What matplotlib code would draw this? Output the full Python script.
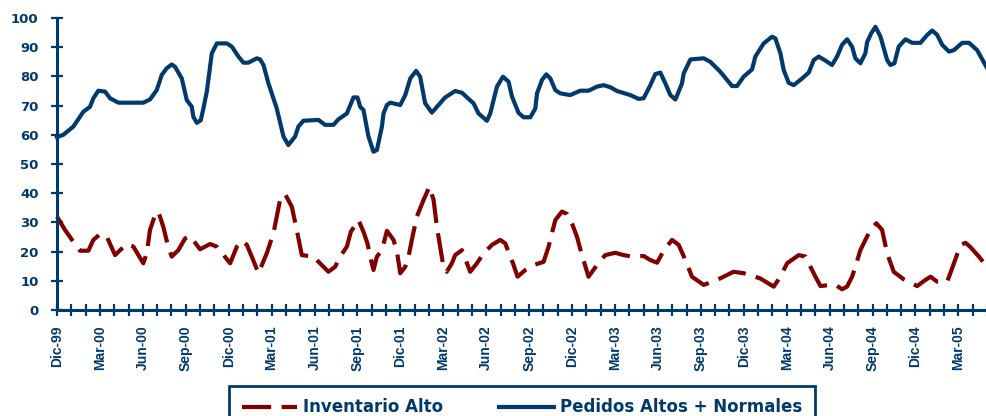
import matplotlib
matplotlib.use("Agg")
import matplotlib.pyplot as plt
from matplotlib.lines import Line2D

# meses desde Dic-99 (fraccion de mes) y valores
meses_ped = [0, 0.44, 1.14, 1.84, 2.31, 2.54, 2.89, 3.36, 3.71, 4.29, 6.03, 6.50, 6.97, 7.32,
             7.67, 8.02, 8.25, 8.72, 9.07, 9.42, 9.53, 9.77, 10.05, 10.23, 10.47, 10.82, 11.17,
             11.87, 12.22, 12.68, 13.03, 13.38, 13.97, 14.20, 14.43, 14.78, 15.36, 15.83, 16.17,
             16.64, 16.87, 17.22, 18.27, 18.74, 19.32, 19.67, 20.26, 20.72, 21.00, 21.19, 21.42,
             21.77, 22.12, 22.36, 22.71, 22.82, 23.06, 23.29, 23.99, 24.34, 24.69, 25.10, 25.38,
             25.73, 26.20, 26.66, 27.13, 27.83, 28.30, 29.11, 29.46, 30.05, 30.28, 30.75, 31.17,
             31.56, 31.80, 32.26, 32.61, 33.08, 33.43, 33.55, 33.90, 34.20, 34.48, 34.83, 35.17,
             35.87, 36.57, 37.15, 37.74, 38.20, 38.67, 39.14, 40.07, 40.65, 41.00, 41.47, 41.82,
             42.17, 42.52, 42.87, 43.22, 43.45, 43.68, 43.80, 44.27, 45.20, 45.66, 46.36, 47.18,
             47.53, 47.99, 48.58, 48.81, 49.39, 49.98, 50.21, 50.56, 50.79, 51.14, 51.49, 52.08,
             52.54, 52.89, 53.24, 53.71, 54.17, 54.52, 54.87, 55.22, 55.57, 55.80, 56.15, 56.50,
             56.62, 56.90, 57.20, 57.55, 58.02, 58.25, 58.53, 58.83, 59.30, 59.77, 60.35, 60.82,
             61.17, 61.52, 61.87, 62.34, 62.69, 63.27, 63.74, 64.31, 65.01]
pedidos = [59.2, 60, 62.8, 67.9, 69.6, 72.5, 75.1, 74.8, 72.5, 71, 71, 72.1, 75.3, 80.5,
           82.8, 84.1, 83.3, 79.3, 71.9, 69.6, 66.2, 64.1, 65, 69, 74.8, 87.9, 91.3,
           91.3, 90.2, 86.8, 84.7, 84.7, 86.2, 85.8, 83.9, 77.6, 69, 59.4, 56.5,
           59.4, 62.8, 64.8, 65.1, 63.4, 63.4, 65.3, 67.3, 72.8, 72.8, 69.6, 68.5,
           59.4, 54.2, 54.8, 62.8, 67.3, 70.2, 71, 70.2, 73.6, 79.3, 81.9, 79.9,
           70.8, 67.6, 70.2, 72.8, 75, 74.4, 70.8, 67.3, 64.8, 67.3, 76.5, 79.9,
           78.2, 73.1, 67.5, 66, 66, 69, 74.2, 78.8, 80.7, 79.3, 75.3, 74.2,
           73.6, 75.1, 75.1, 76.5, 77, 76.3, 75, 73.6, 72.3, 72.5, 77, 80.8,
           81.3, 77.6, 73.6, 72.1, 74.8, 77.6, 81, 85.8, 86.2, 85, 81.6, 76.7,
           76.7, 79.9, 82.4, 86.8, 91.3, 93.6, 93, 87.9, 82.2, 77.8, 77, 79.3,
           81.3, 85.6, 86.8, 85.4, 83.9, 86.8, 90.8, 92.7, 90.2, 86.2, 84.5, 87.9,
           91.7, 94.7, 97, 93.7, 85.6, 83.9, 84.5, 90.2, 92.7, 91.5, 91.5, 94.2,
           95.7, 94.2, 90.8, 88.5, 89, 91.5, 91.5, 89, 82.8]

meses_inv = [0, 0.56, 1.14, 1.61, 2.19, 2.54, 3.01, 3.48, 4.06, 4.41, 4.87, 5.34, 5.69, 6.03,
             6.27, 6.50, 6.85, 7.08, 7.43, 7.78, 8.02, 8.48, 8.95, 9.30, 10.00, 10.70, 11.17,
             12.10, 12.57, 12.92, 13.27, 13.73, 14.08, 14.66, 15.13, 15.59, 15.94, 16.41, 16.76,
             17.11, 17.92, 18.51, 18.97, 19.44, 19.79, 20.26, 20.54, 21.07, 21.42, 21.70, 21.89,
             22.12, 22.36, 22.71, 23.06, 23.52, 23.76, 23.99, 24.34, 24.57, 24.80, 25.15, 25.62,
             26.03, 26.32, 26.55, 26.78, 27.01, 27.24, 27.60, 27.83, 28.30, 28.65, 28.88, 29.35,
             29.81, 30.40, 30.98, 31.33, 31.68, 31.87, 32.19, 32.73, 33.31, 34.01, 34.36, 34.59,
             34.83, 35.29, 35.64, 35.99, 36.34, 36.69, 37.15, 37.74, 38.32, 39.02, 39.60, 40.19,
             41.00, 41.47, 41.94, 42.40, 42.99, 43.45, 43.92, 44.38, 45.20, 46.13, 46.59, 47.29,
             47.99, 49.16, 50.09, 50.56, 51.03, 51.84, 52.31, 52.66, 53.01, 53.36, 54.06, 54.41,
             54.87, 55.22, 55.57, 55.80, 56.15, 56.50, 56.85, 57.27, 57.67, 58.02, 58.48, 59.18,
             60.12, 60.70, 61.05, 61.52, 62.22, 62.69, 63.15, 63.50, 63.85, 64.43, 65.01]
inventario = [32, 27.4, 23.4, 20.3, 20.3, 24, 26, 25.1, 18.8, 20.5, 22.6, 21.7, 18.8, 16,
              19.4, 27.4, 32.5, 33.7, 28.5, 21.5, 18.3, 20.5, 24.5, 25.3, 20.8, 22.6, 21.7,
              16, 21.7, 23.7, 22.3, 16.9, 12.6, 19.4, 26.3, 37.7, 39.7, 35.4, 27.4,
              18.8, 18.3, 15.4, 13.1, 14.8, 18.3, 21.7, 26.8, 30.8, 26.8, 22.8, 18.3,
              13.7, 18.3, 20.5, 27.1, 24, 20, 12.6, 14.8, 18.3, 24, 32, 37.7,
              42.2, 37.7, 28.5, 21.7, 14.8, 13.1, 16, 18.8, 20.5, 16, 13.1, 16,
              19.4, 22.3, 24, 22.8, 18.3, 16, 11.4, 13.7, 15.4, 16.5, 21.7, 26.3,
              30.8, 33.7, 32.9, 29.7, 25.1, 18.8, 11.4, 15.4, 18.8, 19.6, 18.8, 18.3,
              18.5, 17.1, 16.2, 20.3, 24, 22.3, 17.1, 11.4, 8.6, 10.3, 11.4, 13.1,
              12.6, 10.8, 8, 11.4, 16, 18.8, 18.3, 14.8, 11.4, 8.2, 8.6, 8.6,
              7.1, 8, 11.4, 14.8, 20.5, 24, 27.4, 29.7, 27.4, 19.4, 13.1, 10.5,
              8.2, 10.3, 11.4, 9.7, 9.7, 16, 22.3, 23, 21.5, 18.3, 14.8]

etiquetas = ["Dic-99", "Mar-00", "Jun-00", "Sep-00", "Dic-00", "Mar-01", "Jun-01", "Sep-01",
             "Dic-01", "Mar-02", "Jun-02", "Sep-02", "Dic-02", "Mar-03", "Jun-03", "Sep-03",
             "Dic-03", "Mar-04", "Jun-04", "Sep-04", "Dic-04", "Mar-05"]

azul = "#003a6c"
rojo = "#800000"

fig = plt.figure(figsize=(9.87, 4.16), dpi=100)
ax = fig.add_axes([57 / 987, 106 / 416, 930 / 987, 292 / 416])

ax.plot(meses_inv, inventario, color=rojo, lw=3, dashes=(7, 2.5), clip_on=False,
        solid_joinstyle="round", dash_joinstyle="round", dash_capstyle="butt")
ax.plot(meses_ped, pedidos, color=azul, lw=3, clip_on=False, solid_joinstyle="round")

ax.set_xlim(0, 65)
ax.set_ylim(0, 100)
for s in ["top", "right"]:
    ax.spines[s].set_visible(False)
for s in ["left", "bottom"]:
    ax.spines[s].set_color(azul)
    ax.spines[s].set_linewidth(2.2)

ax.set_yticks(range(0, 101, 10))
ax.set_xticks(range(0, 66))
ax.set_xticklabels([etiquetas[i // 3] if i % 3 == 0 and i // 3 < len(etiquetas) else "" for i in range(66)],
                   rotation=90, fontfamily="Liberation Sans", fontweight="bold", fontsize=10, color=azul)
for lab in ax.get_yticklabels():
    lab.set_fontfamily("DejaVu Sans")
    lab.set_fontweight("bold")
    lab.set_fontsize(9.5)
    lab.set_color(azul)
ax.tick_params(axis="both", direction="inout", length=8.6, width=1.6, color=azul)
ax.tick_params(axis="x", pad=7)
ax.tick_params(axis="y", pad=9)

handles = [Line2D([], [], color=rojo, lw=3, dashes=(7, 2.5)),
           Line2D([], [], color=azul, lw=3)]
leg = fig.legend(handles, ["Inventario Alto", "Pedidos Altos + Normales"],
                 loc="upper left", bbox_to_anchor=(229 / 987, 30 / 416, 586 / 987, 0),
                 mode="expand", ncol=2, frameon=True, fancybox=False, borderaxespad=0,
                 framealpha=1, handlelength=3.3, handletextpad=0.4, columnspacing=1.5,
                 borderpad=0.75, prop={"family": "DejaVu Sans", "weight": "bold", "size": 12})
leg.get_frame().set_edgecolor(azul)
leg.get_frame().set_linewidth(2)
for t in leg.get_texts():
    t.set_color(azul)

fig.savefig("out.png", dpi=100)
